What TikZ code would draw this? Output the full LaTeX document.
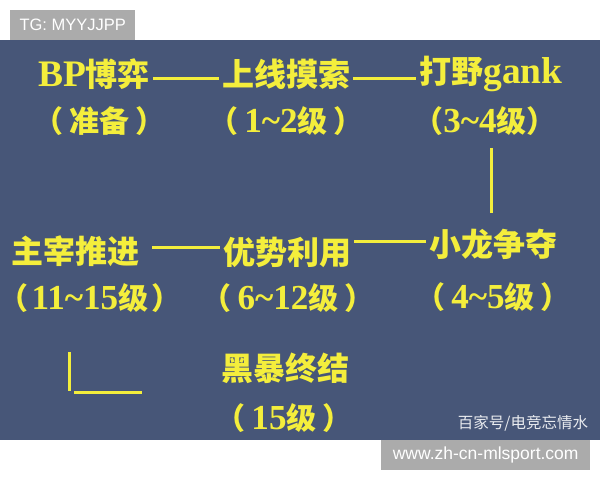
\documentclass[tikz,border=0pt]{standalone}
\usepackage{fontspec}
\newfontfamily\cjk{Noto Sans CJK SC}
\newfontfamily\latf{Liberation Serif}[Scale=1.17]
\newfontfamily\sansf{Liberation Sans}
\newcommand\lat[1]{{\latf\bfseries #1}}
\newcommand\tl{\lat{\char"7E}}
\newcommand\ps{\hspace{0.2em}}
\definecolor{bgblue}{RGB}{71,86,120}
\definecolor{yel}{RGB}{244,238,60}
\definecolor{tagg}{RGB}{171,171,171}
\tikzset{
  head/.style={text=yel, font=\cjk\bfseries\fontsize{32}{34}\selectfont, inner sep=0pt},
  sub/.style={text=yel, font=\cjk\bfseries\fontsize{30}{32}\selectfont, inner sep=0pt},
  link/.style={draw=yel, line width=3pt, shorten >=3pt, shorten <=3pt},
  lshape/.style={draw=yel, line width=3pt},
  tag/.style={fill=tagg, text=white, font=\sansf\fontsize{16.5}{18}\selectfont, inner sep=0pt, anchor=north west},
}
\begin{document}
\begin{tikzpicture}[x=1pt,y=-1pt]
\useasboundingbox (0,0) rectangle (600,480);
\fill[white] (0,0) rectangle (600,480);
\fill[bgblue] (0,40) rectangle (600,440);
% tags
\node[tag, minimum width=125pt, minimum height=30pt] (tg) at (10,10) {TG: MYYJJPP};
\node[tag, minimum width=209pt, minimum height=30pt, font=\sansf\fontsize{17.5}{19}\selectfont] (web) at (381,440) {www.zh-cn-mlsport.com};
\node[text=white!88!bgblue, font=\cjk\fontsize{15.5}{17}\selectfont, inner sep=0pt] (wm) at (523,423) {百家号/电竞忘情水};
% row 1
\node[head] (bp) at (94,74) {\lat{BP}博弈};
\node[head] (sx) at (286,74) {上线摸索};
\node[head] (dy) at (491,74) {打野\lat{gank}};
\node[sub] (bps) at (100,121) {（\ps 准备\ps ）};
\node[sub] (sxs) at (286,121) {（\ps\lat{1}\tl\lat{2}级\ps ）};
\node[sub] (dys) at (485,121) {（\lat{3}\tl\lat{4}级）};
% row 2
\node[head] (zz) at (76,251) {主宰推进};
\node[head] (ys) at (287,252) {优势利用};
\node[head] (xl) at (493,244) {小龙争夺};
\node[sub] (zzs) at (90,298) {（\hspace{0.1em}\lat{11}\tl\lat{15}级\hspace{0.1em}）};
\node[sub] (yss) at (288,298) {（\ps\lat{6}\tl\lat{12}级\ps ）};
\node[sub] (xls) at (493,297) {（\ps\lat{4}\tl\lat{5}级\ps ）};
% row 3
\node[head] (hb) at (285,368) {黑暴终结};
\node[sub] (hbs) at (284,418) {（\ps\lat{15}级\ps ）};
% connectors
\draw[link] (bp.east |- 0,78) -- (sx.west |- 0,78);
\draw[link] (sx.east |- 0,78) -- (dy.west |- 0,78);
\coordinate (v1) at (491,148);
\coordinate (v2) at (491,213);
\draw[lshape] (v1) -- (v2);
\draw[link] (xl.west |- 0,241) -- (ys.east |- 0,241);
\draw[link, shorten >=12pt] (ys.west |- 0,247) -- (zz.east |- 0,247);
\coordinate (la) at (69,352);
\coordinate (lb) at (69,391);
\coordinate (lc) at (74,392);
\coordinate (ld) at (142,392);
\draw[lshape] (la) -- (lb);
\draw[lshape] (lc) -- (ld);
\end{tikzpicture}
\end{document}
